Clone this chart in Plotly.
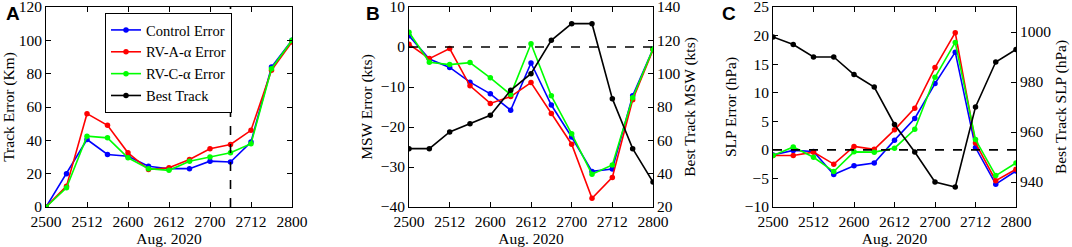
import plotly.graph_objects as go

# ---------------- data ----------------
times = ["2500", "2506", "2512", "2518", "2600", "2606", "2612", "2618",
         "2700", "2706", "2712", "2718", "2800"]
tick_labels = ["2500", "2512", "2600", "2612", "2700", "2712", "2800"]

track_control = [0, 20, 40.5, 31.5, 30.5, 24.5, 23, 23, 27.5, 27, 39, 84, 100]
track_rva = [0, 12.5, 56, 49, 32.5, 22.5, 23.5, 28.5, 35, 37.5, 46, 82, 99]
track_rvc = [0, 11.5, 42.5, 41.5, 29.5, 23, 22, 27.5, 30, 32.5, 38, 83, 100]

msw_control = [2.8, -3, -5.1, -8.8, -11.7, -15.8, -4.0, -14.5, -22.5, -31.1, -30.5, -12.2, -0.5]
msw_rva = [0.7, -2.9, -0.4, -9.7, -14.1, -12.4, -8.9, -16.6, -24.3, -37.8, -32.6, -13.2, -0.7]
msw_rvc = [3.7, -3.8, -4.4, -3.9, -7.7, -11.9, 0.8, -12.2, -21.7, -31.8, -29.5, -12.7, -0.5]
msw_best = [55, 55, 65, 70, 75, 90, 100, 120, 130, 130, 85, 55, 35]

slp_control = [-0.9, -0.1, -0.3, -4.3, -2.8, -2.3, 1.7, 5.5, 11.6, 17.1, 0.4, -6.0, -3.7]
slp_rva = [-1.0, -1.0, -0.4, -2.5, 0.6, 0.1, 3.5, 7.3, 14.4, 20.5, 1.2, -5.4, -3.4]
slp_rvc = [-1.0, 0.5, -1.3, -3.8, -0.35, -0.4, 0.3, 3.6, 12.7, 18.8, 1.8, -4.5, -2.3]
slp_best = [998, 995, 990, 990, 983, 978, 963, 952, 940, 938, 970, 988, 993]

track_marker_time = "2706"   # vertical dashed line in panel A
zero_ref = 0                 # horizontal dashed line in panels B and C

# ---------------- style ----------------
BLUE, RED, GREEN, BLACK = "#0000ff", "#ff0000", "#00ff00", "#000000"
SERIF = "Liberation Serif, Times New Roman, serif"
FS = 15.5
W, H = 1072, 247

idx = list(range(len(times)))
tickvals = [times.index(t) for t in tick_labels]


def px(x):
    return x / W


def py(y):
    return 1 - y / H


def trace(y, color, name, xa, ya, show):
    return go.Scatter(
        x=idx, y=y, mode="lines+markers", name=name,
        line=dict(color=color, width=1.6),
        marker=dict(color=color, size=5.5, symbol="circle"),
        xaxis=xa, yaxis=ya, showlegend=show, legendgroup=name,
    )


fig = go.Figure()
# panel A
fig.add_trace(trace(track_control, BLUE, "Control Error", "x", "y", False))
fig.add_trace(trace(track_rva, RED, "RV-A-α Error", "x", "y", False))
fig.add_trace(trace(track_rvc, GREEN, "RV-C-α Error", "x", "y", False))
# panel B
fig.add_trace(trace(msw_best, BLACK, "Best Track", "x2", "y3", True))
fig.add_trace(trace(msw_control, BLUE, "Control Error", "x2", "y2", True))
fig.add_trace(trace(msw_rva, RED, "RV-A-α Error", "x2", "y2", True))
fig.add_trace(trace(msw_rvc, GREEN, "RV-C-α Error", "x2", "y2", True))
# panel C
fig.add_trace(trace(slp_best, BLACK, "Best Track", "x3", "y5", False))
fig.add_trace(trace(slp_control, BLUE, "Control Error", "x3", "y4", False))
fig.add_trace(trace(slp_rva, RED, "RV-A-α Error", "x3", "y4", False))
fig.add_trace(trace(slp_rvc, GREEN, "RV-C-α Error", "x3", "y4", False))

# legend ordering
for tr in fig.data:
    tr.legendrank = {"Control Error": 1, "RV-A-α Error": 2,
                     "RV-C-α Error": 3, "Best Track": 4}[tr.name]

tickfont = dict(family=SERIF, size=FS, color="black")
titlefont = dict(family=SERIF, size=FS, color="black")

ydom = [py(207), py(7)]
xdomA = [px(46), px(292)]
xdomB = [px(409), px(653)]
xdomC = [px(773), px(1016)]


def xaxis(dom, anchor):
    return dict(
        domain=dom, anchor=anchor, range=[0, len(times) - 1],
        tickmode="array", tickvals=tickvals, ticktext=tick_labels,
        ticks="inside", ticklen=5, tickcolor="black", tickwidth=1,
        showline=True, linecolor="black", linewidth=1, mirror="ticks",
        showgrid=False, zeroline=False, tickfont=tickfont,
        ticklabeloverflow="allow", automargin=False,
        title=dict(text="Aug. 2020", font=titlefont, standoff=0),
    )


def yaxis(dom, anchor, rng, dtick, tick0, title, side="left", mirror=False, overlaying=None):
    d = dict(
        domain=dom, anchor=anchor, range=rng, dtick=dtick, tick0=tick0,
        ticks="inside", ticklen=5, tickcolor="black", tickwidth=1,
        showline=True, linecolor="black", linewidth=1, mirror=mirror,
        showgrid=False, zeroline=False, tickfont=tickfont, side=side,
        ticklabeloverflow="allow", automargin=False,
        title=dict(text=title, font=titlefont, standoff=4),
    )
    if overlaying:
        d["overlaying"] = overlaying
    return d


fig.update_layout(
    width=W, height=H,
    margin=dict(l=0, r=0, t=0, b=0, autoexpand=False),
    paper_bgcolor="white", plot_bgcolor="white",
    xaxis=xaxis(xdomA, "y"),
    yaxis=yaxis(ydom, "x", [0, 120], 20, 0, "Track Error (Km)", mirror="ticks"),
    xaxis2=xaxis(xdomB, "y2"),
    yaxis2=yaxis(ydom, "x2", [-40, 10], 10, -40, "MSW Error (kts)"),
    yaxis3=yaxis(ydom, "x2", [20, 140], 20, 20, "Best Track MSW (kts)", side="right", overlaying="y2"),
    xaxis3=xaxis(xdomC, "y4"),
    yaxis4=yaxis(ydom, "x3", [-10, 25], 5, -10, "SLP Error (hPa)"),
    yaxis5=yaxis(ydom, "x3", [930, 1010], 20, 940, "Best Track SLP (hPa)", side="right", overlaying="y4"),
    legend=dict(
        x=px(105), y=py(13), xanchor="left", yanchor="top",
        bgcolor="white", bordercolor="black", borderwidth=1,
        font=dict(family=SERIF, size=14.5, color="black"),
        tracegroupgap=0, itemwidth=30,
    ),
    showlegend=True,
)

# reference dashed lines
fig.add_shape(type="line", xref="x", yref="y domain",
              x0=times.index(track_marker_time), x1=times.index(track_marker_time),
              y0=0, y1=1, line=dict(color="black", width=1.6, dash="dash"))
fig.add_shape(type="line", xref="x2 domain", yref="y2", x0=0, x1=1,
              y0=zero_ref, y1=zero_ref, line=dict(color="black", width=1.6, dash="dash"))
fig.add_shape(type="line", xref="x3 domain", yref="y4", x0=0, x1=1,
              y0=zero_ref, y1=zero_ref, line=dict(color="black", width=1.6, dash="dash"))

# panel letters
for lab, xx in [("A", 4), ("B", 364), ("C", 720)]:
    fig.add_annotation(text="<b>%s</b>" % lab, x=px(xx), y=py(14), xref="paper", yref="paper",
                       xanchor="left", yanchor="middle", showarrow=False,
                       font=dict(family="Liberation Sans", size=19, color="black"))

# remove the default page margin so the figure fills the window exactly
fig.write_html(
    "out.html",
    config={"displayModeBar": False},
    post_script="document.body.style.margin='0';document.body.style.overflow='hidden';",
)
